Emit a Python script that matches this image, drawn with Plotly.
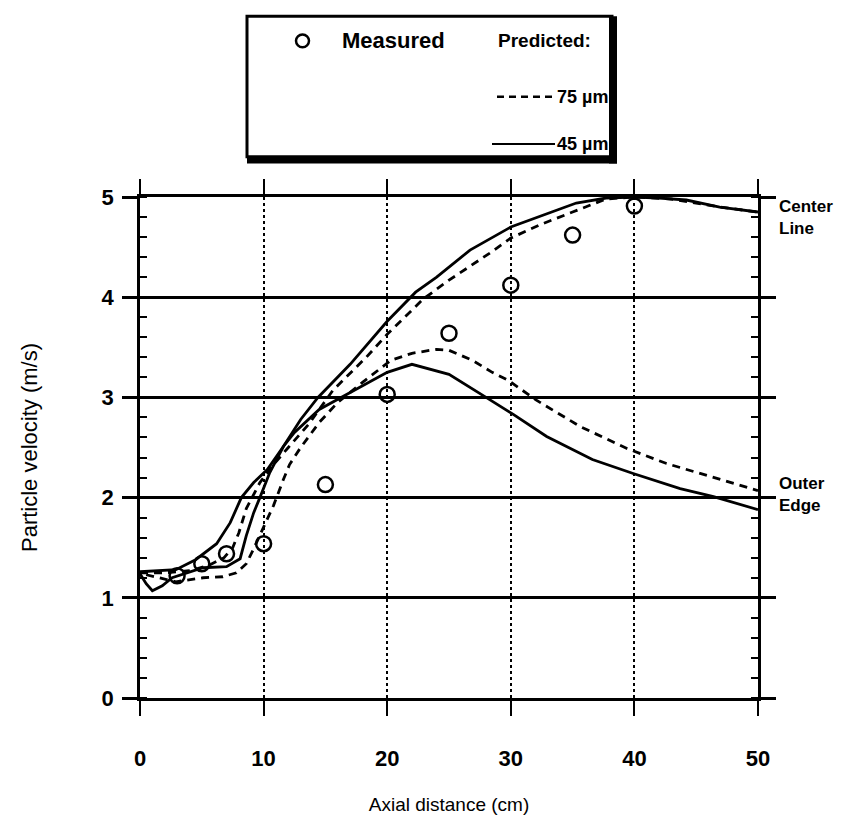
import plotly.graph_objects as go

# ---------------- data ----------------
meas_x = [3, 5, 7, 10, 15, 20, 25, 30, 35, 40]
meas_y = [1.22, 1.34, 1.44, 1.54, 2.13, 3.03, 3.64, 4.12, 4.62, 4.91]

center45_x = [0, 1.5, 2.9, 4.5, 6.2, 7.3, 8.2, 9.2, 10.3, 11.6, 13.0, 14.4, 17.0, 20.0,
              22.3, 24.0, 26.7, 30.0, 33.0, 35.3, 37.7, 40.0, 42.0, 44.2, 46.9, 50.0]
center45_y = [1.26, 1.27, 1.28, 1.38, 1.54, 1.75, 2.0, 2.15, 2.28, 2.51, 2.78, 3.0, 3.33, 3.76,
              4.05, 4.2, 4.47, 4.70, 4.84, 4.94, 4.99, 5.0, 4.99, 4.97, 4.90, 4.85]

outer45_x = [0, 0.5, 1.0, 1.8, 2.6, 4.0, 5.1, 7.0, 8.1, 8.6, 9.2, 9.7, 10.5, 11.6, 12.5, 14.5,
             17.0, 20.0, 22.0, 25.0, 28.0, 30.2, 32.9, 36.6, 39.9, 43.7, 46.4, 50.0]
outer45_y = [1.24, 1.14, 1.07, 1.12, 1.2, 1.26, 1.30, 1.31, 1.39, 1.62, 1.85, 2.0, 2.25, 2.51, 2.65, 2.88,
             3.05, 3.25, 3.33, 3.23, 3.0, 2.83, 2.61, 2.38, 2.24, 2.09, 2.01, 1.88]

center75_x = [0, 2, 4, 5.5, 6.8, 7.5, 8.0, 8.6, 9.7, 10.8, 12.0, 13.7, 15.6, 18.3, 20.0, 22.9,
              25.0, 28.3, 30.0, 32.5, 35.0, 37.7, 40.0, 43.0, 46.9, 50.0]
center75_y = [1.25, 1.25, 1.27, 1.32, 1.4, 1.5, 1.65, 1.89, 2.15, 2.33, 2.5, 2.74, 3.07, 3.40, 3.63, 3.98,
              4.17, 4.44, 4.59, 4.73, 4.85, 4.98, 5.0, 4.98, 4.9, 4.85]

outer75_x = [0.5, 1.5, 2.9, 5.1, 6.7, 7.8, 8.6, 9.2, 10.0, 10.8, 11.6, 12.1, 13.0, 14.5, 16.0, 18.0,
             20.3, 22.0, 24.0, 25.0, 26.9, 28.5, 29.8, 32.1, 35.6, 39.4, 42.6, 46.1, 50.0]
outer75_y = [1.23, 1.2, 1.16, 1.2, 1.21, 1.25, 1.34, 1.49, 1.70, 1.92, 2.18, 2.33, 2.5, 2.75, 2.95, 3.15,
             3.37, 3.44, 3.48, 3.47, 3.37, 3.25, 3.17, 2.97, 2.71, 2.49, 2.34, 2.21, 2.07]

x_ticks = [0, 10, 20, 30, 40, 50]
y_ticks = [0, 1, 2, 3, 4, 5]

FONT = "Liberation Sans, Arial, Helvetica, sans-serif"
LW = 2.8
DASH = "8px,6px"

fig = go.Figure()
for xs, ys, dash in [(outer75_x, outer75_y, DASH), (center75_x, center75_y, DASH),
                     (outer45_x, outer45_y, "solid"), (center45_x, center45_y, "solid")]:
    fig.add_trace(go.Scatter(x=xs, y=ys, mode="lines", showlegend=False,
                             line=dict(color="black", width=LW, dash=dash)))
fig.add_trace(go.Scatter(x=meas_x, y=meas_y, mode="markers", showlegend=False, cliponaxis=False,
                         marker=dict(symbol="circle-open", size=15, color="black",
                                     line=dict(color="black", width=2.5))))

W, H = 860, 824
L, R, T, B = 140, 102, 197, 117
pw, ph = W - L - R, H - T - B


def px(x):
    return (x - L) / pw


def py(y):
    return (H - B - y) / ph


fig.update_layout(
    width=W, height=H, margin=dict(l=L, r=R, t=T, b=B),
    paper_bgcolor="white", plot_bgcolor="white",
    font=dict(family=FONT, color="black"),
    xaxis=dict(range=[0, 50], tickvals=x_ticks, ticktext=[str(v) for v in x_ticks],
               showline=True, linecolor="black", linewidth=2.5, mirror="ticks",
               ticks="outside", ticklen=15, tickwidth=2, tickcolor="black",
               showgrid=True, gridcolor="black", gridwidth=2, griddash="dot",
               zeroline=False, ticklabelstandoff=24,
               tickfont=dict(size=22, weight="bold"),
               title=dict(text="Axial distance (cm)", font=dict(size=19), standoff=28)),
    yaxis=dict(range=[0, 5], tickvals=y_ticks, ticktext=[str(v) for v in y_ticks],
               showline=True, linecolor="black", linewidth=2.5, mirror="ticks",
               ticks="outside", ticklen=15, tickwidth=2.5, tickcolor="black",
               showgrid=True, gridcolor="black", gridwidth=2.5,
               zeroline=False, ticklabelstandoff=4,
               minor=dict(dtick=0.2, ticks="inside", ticklen=7, tickwidth=2,
                          tickcolor="black", showgrid=False),
               tickfont=dict(size=22, weight="bold"),
               title=dict(text="Particle velocity (m/s)", font=dict(size=22), standoff=58)),
)

# right-side labels
fig.add_annotation(x=px(777), y=py(218), xref="paper", yref="paper", xanchor="left",
                   yanchor="middle", align="left", showarrow=False,
                   text="Center<br>Line", font=dict(size=17, weight="bold"))
fig.add_annotation(x=px(777), y=py(500), xref="paper", yref="paper", xanchor="left",
                   yanchor="middle", align="left", showarrow=False,
                   text="Outer<br>Edge", font=dict(size=17, weight="bold"))

# legend box
bx0, bx1, by0, by1 = 247, 612, 13, 156
fig.add_shape(type="rect", xref="paper", yref="paper", x0=px(bx0), x1=px(bx1), y0=py(by1), y1=py(by0),
              line=dict(color="black", width=3), fillcolor="white")
fig.add_shape(type="rect", xref="paper", yref="paper", x0=px(bx0), x1=px(bx1 + 5), y0=py(by1 + 7),
              y1=py(by1), line=dict(width=0), fillcolor="black")
fig.add_shape(type="rect", xref="paper", yref="paper", x0=px(bx1 - 3), x1=px(bx1 + 5), y0=py(by1 + 7),
              y1=py(by0), line=dict(width=0), fillcolor="black")

cy = 38
fig.add_shape(type="circle", xref="paper", yref="paper", x0=px(296), x1=px(309), y0=py(cy + 6.5),
              y1=py(cy - 6.5), line=dict(color="black", width=2.5))
fig.add_annotation(x=px(340), y=py(cy), xref="paper", yref="paper", xanchor="left", yanchor="middle",
                   showarrow=False, text="Measured", font=dict(size=22, weight="bold"))
fig.add_annotation(x=px(496), y=py(cy), xref="paper", yref="paper", xanchor="left", yanchor="middle",
                   showarrow=False, text="Predicted:", font=dict(size=19, weight="bold"))
ly1, ly2 = 95, 143
fig.add_shape(type="line", xref="paper", yref="paper", x0=px(497), x1=px(553), y0=py(ly1), y1=py(ly1),
              line=dict(color="black", width=2.5, dash="7px,5px"))
fig.add_annotation(x=px(555), y=py(ly1), xref="paper", yref="paper", xanchor="left", yanchor="middle",
                   showarrow=False, text="75 µm", font=dict(size=18, weight="bold"))
fig.add_shape(type="line", xref="paper", yref="paper", x0=px(492), x1=px(555), y0=py(ly2), y1=py(ly2),
              line=dict(color="black", width=2))
fig.add_annotation(x=px(555), y=py(ly2), xref="paper", yref="paper", xanchor="left", yanchor="middle",
                   showarrow=False, text="45 µm", font=dict(size=18, weight="bold"))

fig.write_html("out.html")
